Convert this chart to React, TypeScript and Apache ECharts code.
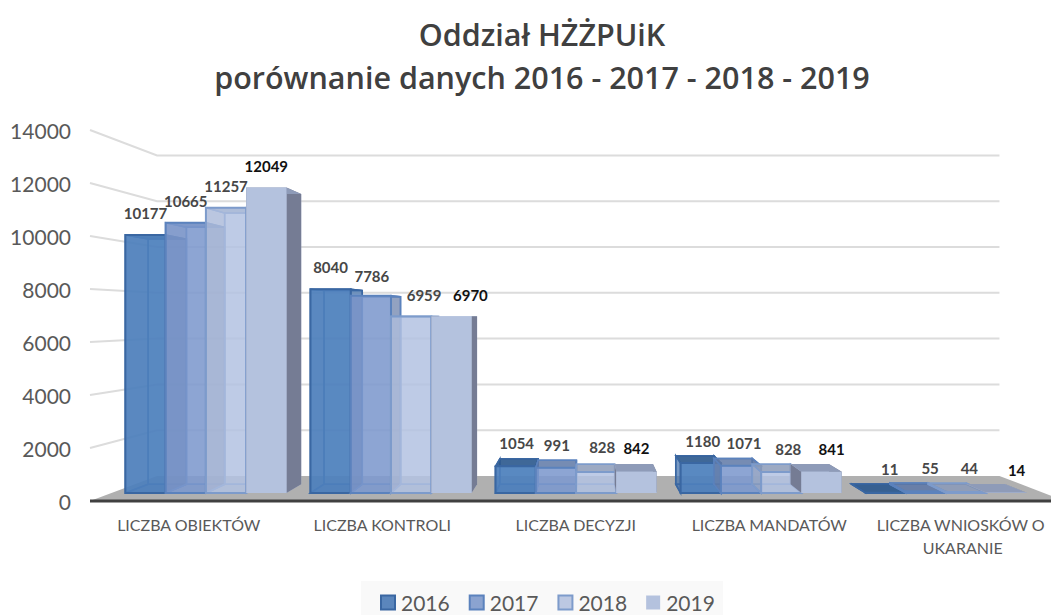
import React, { useEffect, useRef } from "react";
import * as echarts from "echarts";

const titleLines = "Oddział HŻŻPUiK\nporównanie danych 2016 - 2017 - 2018 - 2019";
const categories = ["LICZBA OBIEKTÓW", "LICZBA KONTROLI", "LICZBA DECYZJI", "LICZBA MANDATÓW", "LICZBA WNIOSKÓW O UKARANIE"];
const years = ["2016", "2017", "2018", "2019"];
const values2016 = [10177, 8040, 1054, 1180, 11];
const values2017 = [10665, 7786, 991, 1071, 55];
const values2018 = [11257, 6959, 828, 828, 44];
const values2019 = [12049, 6970, 842, 841, 14];
const yTicks = [2000, 4000, 6000, 8000, 10000, 12000, 14000];

// layout: perspective of the chart's 3-D box
const VX = 583, VY = 317, K = 0.136;
const WALL_LEFT = 90, FLOOR_RIGHT = 1065;
const D0 = 0.32, D1 = 0.67;
const BAR_SHARE = 0.2176;
const LABEL_FONT = "Lato";

// layout: hand-placed data labels, per year then per category
const labelDx = [[0, 0, 1, 2, 4], [0, 1, 1, 3, 4], [0, 13, 6, 7, 3], [0, 19, 0, 10, 10]];
const labelDy = [[-1, -1, -2, -1, -3], [-1, 1, -2, -2, -3], [-1, -1, -4, -2, -3], [-1, 0, -3, -2, -2]];

const faces = [
  { front: "rgba(79,129,189,0.88)", side: "rgba(62,106,165,0.45)", back: "rgba(79,129,189,0.5)", top: "rgba(45,88,140,0.85)", floor: "rgba(70,115,175,0.6)", stroke: "#3a67a2", sw: 2 },
  { front: "rgba(125,153,205,0.8)", side: "rgba(90,110,150,0.5)", back: "rgba(140,165,212,0.45)", top: "rgba(90,115,160,0.75)", floor: "rgba(125,153,205,0.5)", stroke: "#5b82bd", sw: 2 },
  { front: "rgba(178,193,224,0.72)", side: "rgba(140,150,175,0.42)", back: "rgba(190,203,230,0.5)", top: "rgba(130,145,175,0.7)", floor: "rgba(178,193,224,0.5)", stroke: "#7d9bcb", sw: 2 },
  { front: "#b4c2de", side: "#757c94", back: "#b4c2de", top: "#8e9bb8", floor: "#b4c2de", stroke: "none", sw: 0 },
];
const legendFill = ["#5b86bc", "#8ba3d0", "#bcc8e2", "#b4c2de"];

const project = (x: number, y: number, d: number): number[] => {
  const s = K * d;
  return [x + s * (VX - x), y + s * (VY - y)];
};

const poly = (points: number[][], fill: string, stroke: string, lineWidth: number) => ({
  type: "polygon",
  shape: { points },
  style: { fill, stroke, lineWidth, lineJoin: "miter" },
  silent: true,
});

const barSeries = (name: string, values: number[], s: number) => ({
  name,
  type: "custom",
  z: 3 + s,
  itemStyle: { color: legendFill[s], borderColor: faces[s].stroke === "none" ? legendFill[s] : faces[s].stroke, borderWidth: faces[s].sw },
  data: values.map((v, i) => [i, v]),
  encode: { x: 0, y: 1 },
  renderItem: (_p: any, api: any) => {
    const i = api.value(0);
    const v = api.value(1);
    const [cx, yTop] = api.coord([i, v]);
    const [, yBase] = api.coord([i, 0]);
    const w = (api.size([1, 0]) as number[])[0] * BAR_SHARE;
    const xl = cx + (s - 2) * w;
    const xr = xl + w;
    const f = faces[s];
    const c = (x: number, y: number, d: number) => project(x, y, d);
    const inner = f.stroke === "none" ? 0 : 1.5;
    const frontTop = c(xl, yTop, D0);
    const frontTopR = c(xr, yTop, D0);
    const children: any[] = [
      poly([c(xl, yTop, D1), c(xr, yTop, D1), c(xr, yBase, D1), c(xl, yBase, D1)], f.back, f.stroke, inner),
      poly([c(xl, yBase, D0), c(xr, yBase, D0), c(xr, yBase, D1), c(xl, yBase, D1)], f.floor, f.stroke, inner),
      poly([c(xl, yTop, D0), c(xl, yTop, D1), c(xl, yBase, D1), c(xl, yBase, D0)], f.side, f.stroke, inner),
      poly([c(xr, yTop, D0), c(xr, yTop, D1), c(xr, yBase, D1), c(xr, yBase, D0)], f.side, f.stroke, inner),
      poly([c(xl, yTop, D0), c(xr, yTop, D0), c(xr, yTop, D1), c(xl, yTop, D1)], f.top, f.stroke, inner),
      poly([frontTop, frontTopR, c(xr, yBase, D0), c(xl, yBase, D0)], f.front, f.stroke, f.sw),
      {
        type: "text",
        silent: true,
        z2: 50,
        style: {
          x: (frontTop[0] + frontTopR[0]) / 2 + labelDx[s][i],
          y: frontTop[1] - 21 + labelDy[s][i],
          text: String(v),
          align: "center",
          verticalAlign: "middle",
          font: `700 15px ${LABEL_FONT}`,
          fill: s === 3 ? "#111111" : "#474747",
        },
      },
    ];
    return { type: "group", children };
  },
});

const option: any = {
  animation: false,
  backgroundColor: "#ffffff",
  title: {
    text: titleLines,
    left: 537,
    top: 7,
    textAlign: "center",
    textStyle: { fontFamily: "Open Sans", fontWeight: 600, fontSize: 30.5, lineHeight: 43, color: "#404040" },
  },
  legend: {
    data: years,
    left: 361,
    top: 581,
    padding: [11, 8, 4, 19],
    backgroundColor: "#f9f9f9",
    icon: "rect",
    itemWidth: 14,
    itemHeight: 14,
    itemGap: 19,
    selectedMode: false,
    textStyle: { fontFamily: "Lato", fontSize: 21, color: "#595959", padding: [0, 0, 0, 1] },
  },
  grid: { left: 92, top: 130, width: 967.5, height: 371, containLabel: false },
  xAxis: {
    type: "category",
    data: categories,
    axisLine: { show: false },
    axisTick: { show: false },
    axisLabel: {
      interval: 0,
      margin: 12,
      width: 180,
      overflow: "break",
      fontFamily: "Lato",
      fontSize: 16,
      lineHeight: 23,
      color: "#595959",
    },
  },
  yAxis: {
    type: "value",
    min: 0,
    max: 14000,
    interval: 2000,
    axisLine: { show: false },
    axisTick: { show: false },
    splitLine: { show: false },
    axisLabel: { margin: 21, fontFamily: "Lato", fontSize: 21, color: "#595959", formatter: (v: number) => String(v) },
  },
  series: [
    {
      type: "custom",
      z: 1,
      silent: true,
      data: yTicks.map((t) => [0, t]),
      encode: { x: 0, y: 1 },
      renderItem: (_p: any, api: any) => {
        const y = api.coord([0, api.value(1)])[1];
        return {
          type: "polyline",
          silent: true,
          shape: { points: [project(WALL_LEFT, y, 0), project(WALL_LEFT, y, 1), project(FLOOR_RIGHT, y, 1)] },
          style: { fill: "none", stroke: "#dcdcdc", lineWidth: 2 },
        };
      },
    },
    {
      type: "custom",
      z: 2,
      silent: true,
      data: [[0, 0]],
      encode: { x: 0, y: 1 },
      renderItem: (_p: any, api: any) => {
        const y = api.coord([0, 0])[1];
        return {
          type: "group",
          children: [
            poly([project(WALL_LEFT, y, 0), project(WALL_LEFT, y, 1), project(FLOOR_RIGHT, y, 1), project(FLOOR_RIGHT, y, 0)], "#b0b0b0", "none", 0),
            { type: "line", silent: true, shape: { x1: WALL_LEFT, y1: y, x2: FLOOR_RIGHT, y2: y }, style: { stroke: "#404040", lineWidth: 3 } },
          ],
        };
      },
    },
    barSeries(years[0], values2016, 0),
    barSeries(years[1], values2017, 1),
    barSeries(years[2], values2018, 2),
    barSeries(years[3], values2019, 3),
  ],
};

export default function App() {
  const ref = useRef<HTMLDivElement>(null);
  useEffect(() => {
    const chart = echarts.init(ref.current!, undefined, { renderer: "svg" });
    chart.setOption(option);
    return () => chart.dispose();
  }, []);
  return (
    <div style={{ position: "fixed", left: 0, top: 0, width: 1051, height: 615, overflow: "hidden" }}>
      <div ref={ref} style={{ width: 1100, height: 615 }} />
    </div>
  );
}
